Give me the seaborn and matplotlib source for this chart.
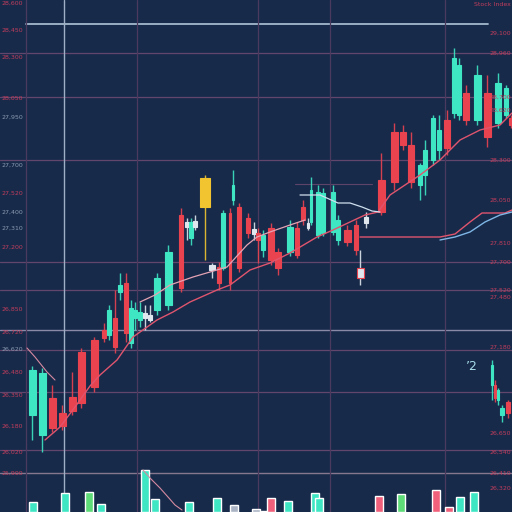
import numpy as np
import matplotlib
matplotlib.use("Agg")
import matplotlib.pyplot as plt
import seaborn as sns

# ---- candle data (time position, open, close, high, low) ----
candle_t = [32, 42, 52, 62, 72, 81, 94, 104, 109, 115, 120, 126, 131, 135, 140, 145, 150,
            157, 168, 181, 187, 191, 195, 205, 212, 219, 223, 230, 233, 239, 248, 254, 258,
            263, 271, 278, 290, 297, 303, 308, 311, 318, 323, 333, 338, 347, 356, 360, 366,
            381, 394, 403, 411, 420, 425, 433, 439, 447, 454, 459, 466, 477, 487, 498, 506, 511]
candle_open = [97, 77, 114, 99, 115, 160, 172, 182, 177, 194, 220, 229, 169, 194, 192, 194, 192,
               202, 207, 297, 285, 274, 291, 305, 247, 245, 244, 299, 312, 305, 294, 278, 279,
               262, 284, 260, 260, 284, 305, 289, 290, 277, 279, 280, 272, 282, 287, 234, 295,
               332, 380, 380, 367, 327, 337, 352, 362, 392, 399, 397, 419, 392, 419, 389, 397, 394]
candle_close = [142, 139, 84, 86, 101, 109, 125, 174, 202, 165, 227, 179, 204, 202, 200, 199, 197,
                234, 260, 224, 290, 290, 285, 334, 242, 229, 299, 229, 327, 244, 279, 283, 272,
                277, 252, 244, 285, 257, 292, 284, 322, 320, 319, 320, 292, 270, 262, 244, 289,
                300, 330, 367, 330, 347, 362, 394, 382, 364, 454, 447, 392, 437, 375, 429, 424, 387]
candle_high = [146, 144, 127, 107, 140, 164, 175, 189, 207, 222, 239, 239, 212, 210, 210, 207, 207,
               239, 267, 304, 294, 294, 297, 337, 249, 250, 302, 304, 342, 309, 299, 290, 284,
               282, 289, 264, 292, 290, 312, 294, 335, 327, 324, 327, 297, 287, 292, 262, 300,
               359, 389, 387, 380, 349, 372, 397, 397, 402, 464, 454, 427, 447, 437, 439, 427, 397]
candle_low = [72, 60, 80, 82, 97, 104, 120, 170, 172, 159, 212, 170, 164, 182, 185, 182, 190,
              197, 202, 220, 272, 267, 282, 252, 234, 222, 242, 222, 307, 240, 274, 272, 249,
              255, 247, 237, 256, 254, 287, 282, 287, 274, 276, 277, 267, 266, 257, 227, 284,
              297, 322, 362, 324, 312, 317, 347, 352, 357, 394, 392, 387, 387, 365, 384, 394, 384]
gold_candle = 23      # the single yellow candle
marker_candle = 47    # hollow marker box

# small cluster on the lower right
inset_t = [492, 495, 498, 502, 508]
inset_open = [127, 127, 112, 97, 110]
inset_close = [147, 114, 122, 104, 99]
inset_high = [152, 132, 124, 107, 112]
inset_low = [112, 110, 107, 90, 94]

# ---- volume ----
vol_t = [33, 65, 89, 101, 145, 155, 189, 217, 234, 256, 265, 271, 288, 315, 319,
         379, 401, 436, 449, 460, 474]
vol_size = [10, 19, 20, 8, 42, 13, 10, 14, 7, 3, 1, 14, 11, 19, 14, 16, 18, 22, 5, 15, 20]
vol_kind = ["up", "up", "strong", "up", "up", "up", "up", "up", "flat", "flat", "flat",
            "down", "up", "up", "up", "down", "strong", "down", "down", "up", "up"]
vol_ma_t = [143, 150, 160, 168, 175, 182]
vol_ma = [42, 34, 24, 15, 7, 2]

# ---- moving averages ----
ma_slow_t = [45, 60, 75, 90, 100, 117, 133, 157, 173, 190, 217, 230, 250, 270, 290, 317, 333,
             350, 365, 378, 390, 405, 420, 440, 460, 480, 500, 512]
ma_slow = [72, 85, 105, 126, 137, 152, 175, 192, 200, 210, 222, 227, 242, 249, 259, 275, 282,
           290, 297, 300, 317, 327, 337, 352, 372, 382, 387, 399]
ma_fast_t = [140, 155, 170, 193, 210, 227, 247, 257, 270, 290, 305]
ma_fast = [210, 217, 227, 235, 240, 245, 267, 275, 280, 287, 292]
ma_white_t = [300, 320, 338, 350, 362, 372, 380]
ma_white = [317, 317, 309, 309, 305, 301, 300]
ma_left_t = [27, 35, 47, 55]
ma_left = [164, 155, 140, 132]
ma_right_t = [360, 440, 455, 470, 482, 505, 512]
ma_right = [275, 275, 278, 290, 299, 299, 302]
ma_blue_t = [440, 455, 470, 485, 500, 512]
ma_blue = [272, 275, 280, 290, 297, 300]

# ---- price levels and labels ----
grid_levels = [459, 415, 352, 250, 222, 162, 120, 62]
left_levels = [509, 482, 455, 414, 395, 347, 319, 300, 284, 265, 203, 180, 163, 140, 117, 86, 60, 39]
left_labels = ["28,600", "28,450", "28,300", "28,050", "27,950", "27,700", "27,520", "27,400",
               "27,310", "27,200", "26,850", "26,720", "26,620", "26,480", "26,350", "26,180",
               "26,020", "25,900"]
right_levels = [507, 479, 459, 415, 402, 352, 312, 269, 250, 222, 215, 165, 79, 60, 39, 24]
right_labels = ["Stock Index", "29,100", "28,960", "28,700", "28,620", "28,300", "28,050",
                "27,810", "27,700", "27,520", "27,480", "27,180", "26,650", "26,540",
                "26,410", "26,320"]
grey_left = {4, 5, 7, 8, 12}

bg = "#172a4a"
teal = "#3ee6c4"
red = "#ea4350"
gold = "#f2c530"
pale = "#dfe6ee"
label_red = "#c23d5c"

sns.set_theme(style="dark", rc={"axes.facecolor": bg, "figure.facecolor": bg})

fig = plt.figure(figsize=(5.12, 5.12), dpi=100)
ax = fig.add_axes([0, 0, 1, 1])
ax.set_xlim(0, 512)
ax.set_ylim(0, 512)
ax.set_axis_off()

# grid
for lv in grid_levels:
    ax.axhline(lv, color="#62466c", lw=0.9, zorder=1)
ax.axhline(182, color="#8a8aa6", lw=1.0, zorder=1)
ax.axhline(39, color="#86778f", lw=1.0, zorder=1)
ax.plot([26, 488], [488, 488], color="#a4b8cc", lw=1.3, zorder=1)
ax.plot([295, 372], [328, 328], color="#5e4468", lw=0.8, zorder=1)
for xv in [26, 137, 258, 330, 445]:
    ax.axvline(xv, color="#4c3a5e", lw=0.9, zorder=1)
ax.axvline(64, color="#9fb0c6", lw=1.0, zorder=1)


def draw_candles(t, o, c, h, l, special=None):
    t = np.asarray(t, float)
    o, c, h, l = map(np.asarray, (o, c, h, l))
    order = np.argsort(t)
    ts = t[order]
    gaps = np.diff(ts)
    near = np.minimum(np.r_[gaps[:1], gaps], np.r_[gaps, gaps[-1:]])
    width = np.empty_like(t)
    width[order] = np.clip(near * 0.8, 2.5, 7)
    for i in range(len(t)):
        body = abs(c[i] - o[i])
        if special and i == special.get("gold"):
            col, w = gold, 10
        elif special and i == special.get("marker"):
            col, w = pale, 7
        elif body <= 6:
            col, w = pale, width[i]
        elif c[i] > o[i]:
            col, w = teal, width[i]
        else:
            col, w = red, width[i]
        ax.vlines(t[i], l[i], h[i], color=col, lw=1.0, alpha=0.9, zorder=3)
        ax.bar(t[i], c[i] - o[i], bottom=o[i], width=w, color=col,
               edgecolor=red if special and i == special.get("marker") else col,
               lw=0.8, zorder=4)


draw_candles(candle_t, candle_open, candle_close, candle_high, candle_low,
             special={"gold": gold_candle, "marker": marker_candle})
draw_candles(inset_t, inset_open, inset_close, inset_high, inset_low)

# moving averages
ax.plot(ma_slow_t, ma_slow, color="#e0556e", lw=1.0, zorder=5)
ax.plot(ma_fast_t, ma_fast, color="#e6a3b4", lw=0.9, zorder=5)
ax.plot(ma_white_t, ma_white, color="#cfe0ee", lw=0.9, zorder=5)
ax.plot(ma_left_t, ma_left, color="#d58aa0", lw=0.8, zorder=5)
ax.plot(ma_right_t, ma_right, color="#e0556e", lw=1.0, zorder=5)
ax.plot(ma_blue_t, ma_blue, color="#7fb6e6", lw=1.0, zorder=5)

# volume
vol_colors = {"up": teal, "down": "#f0607a", "strong": "#5ddc78", "flat": "#aab4c4"}
ax.bar(vol_t, vol_size, bottom=0, width=8,
       color=[vol_colors[k] for k in vol_kind], zorder=4)
ax.plot(vol_ma_t, vol_ma, color="#d58aa0", lw=0.8, zorder=5)

# axis labels
for i, (lv, lab) in enumerate(zip(left_levels, left_labels)):
    ax.text(1, lv, lab, fontsize=4.5, color="#8a9ab0" if i in grey_left else label_red,
            va="center", ha="left", zorder=6)
for lv, lab in zip(right_levels, right_labels):
    ax.text(511, lv, lab, fontsize=4.5, color=label_red, va="center", ha="right", zorder=6)

ax.text(466, 145, "\u20192", fontsize=9, color="#a8dce8", va="center", ha="left", zorder=6)

fig.savefig("out.png", dpi=100, facecolor=bg)
